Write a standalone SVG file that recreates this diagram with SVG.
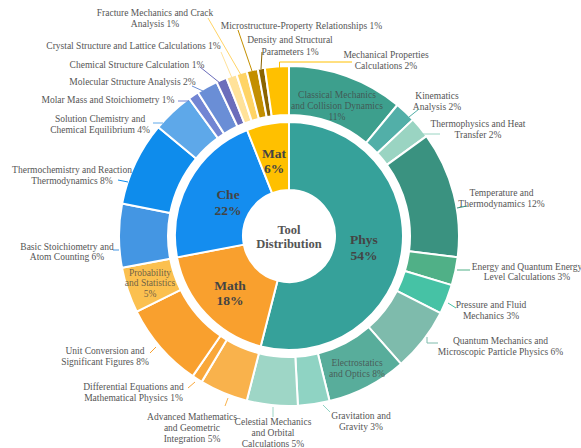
<svg xmlns="http://www.w3.org/2000/svg" width="581" height="448" viewBox="0 0 581 448">
<style>
.seg{stroke:#fff;stroke-width:2;stroke-linejoin:round}
.lbl{font-family:"Liberation Serif","Times New Roman",serif;font-size:9.5px;fill:#555;text-anchor:middle}
.inl{font-family:"Liberation Serif","Times New Roman",serif;font-size:9.5px;fill:#444;fill-opacity:0.78;text-anchor:middle}
.big{font-family:"Liberation Serif","Times New Roman",serif;font-size:13.5px;font-weight:bold;fill:#444;text-anchor:middle}
.ctr{font-family:"Liberation Serif","Times New Roman",serif;font-size:12.5px;font-weight:bold;fill:#555;text-anchor:middle}
.ld{fill:none;stroke-width:1}
</style>
<rect width="581" height="448" fill="#fff"/>
<g id="inner-ring">
<g id="phys"><path class="seg" fill="#36A19A" d="M289,122 A114,114 0 1 1 260.65,346.42 L277.56,280.56 A46,46 0 1 0 289,190 Z"/><text class="big" x="364" y="244">Phys</text><text class="big" x="364" y="260">54%</text></g>
<g id="math"><path class="seg" fill="#F9A02E" d="M260.65,346.42 A114,114 0 0 1 177.02,257.36 L243.81,244.62 A46,46 0 0 0 277.56,280.56 Z"/><text class="big" x="230" y="290">Math</text><text class="big" x="230" y="305">18%</text></g>
<g id="che"><path class="seg" fill="#148DEF" d="M177.02,257.36 A114,114 0 0 1 247.03,130 L272.07,193.23 A46,46 0 0 0 243.81,244.62 Z"/><text class="big" x="228" y="199">Che</text><text class="big" x="228" y="215">22%</text></g>
<g id="mat"><path class="seg" fill="#FFC000" d="M247.03,130 A114,114 0 0 1 289,122 L289,190 A46,46 0 0 0 272.07,193.23 Z"/><text class="big" x="274" y="157.5">Mat</text><text class="big" x="274" y="173">6%</text></g>
</g>
<g id="center"><circle cx="289" cy="236" r="45" fill="#fff"/><text class="ctr" x="289" y="233.5">Tool</text><text class="ctr" x="289" y="247.5">Distribution</text></g>
<g id="outer-ring">
<g id="classical"><path class="seg" fill="#3D9F8D" d="M289,66 A170,170 0 0 1 397.36,105.01 L366.13,142.77 A121,121 0 0 0 289,115 Z"/><text class="inl" x="337" y="97.5">Classical Mechanics</text><text class="inl" x="337" y="108.5">and Collision Dynamics</text><text class="inl" x="337" y="119.5">11%</text></g>
<g id="kinematics"><path class="seg" fill="#52AFA8" d="M397.36,105.01 A170,170 0 0 1 412.92,119.63 L377.2,153.17 A121,121 0 0 0 366.13,142.77 Z"/><text class="lbl" x="437" y="98.5">Kinematics</text><text class="lbl" x="437" y="109.5">Analysis 2%</text></g>
<g id="thermophysics"><path class="seg" fill="#9AD4C2" d="M412.92,119.63 A170,170 0 0 1 426.53,136.08 L386.89,164.88 A121,121 0 0 0 377.2,153.17 Z"/><text class="lbl" x="478" y="126.5">Thermophysics and Heat</text><text class="lbl" x="478" y="137.5">Transfer 2%</text></g>
<g id="temperature"><path class="seg" fill="#3A9280" d="M426.53,136.08 A170,170 0 0 1 457.66,257.31 L409.05,251.17 A121,121 0 0 0 386.89,164.88 Z"/><text class="lbl" x="501.5" y="196">Temperature and</text><text class="lbl" x="501.5" y="207">Thermodynamics 12%</text></g>
<g id="energy"><path class="seg" fill="#50B087" d="M457.66,257.31 A170,170 0 0 1 451.74,285.14 L404.84,270.97 A121,121 0 0 0 409.05,251.17 Z"/><text class="lbl" x="527" y="269.5">Energy and Quantum Energy</text><text class="lbl" x="527" y="280">Level Calculations 3%</text></g>
<g id="pressure"><path class="seg" fill="#46C2A5" d="M451.74,285.14 A170,170 0 0 1 440.47,313.18 L396.81,290.93 A121,121 0 0 0 404.84,270.97 Z"/><text class="lbl" x="491" y="307.5">Pressure and Fluid</text><text class="lbl" x="491" y="318.5">Mechanics 3%</text></g>
<g id="quantum"><path class="seg" fill="#7EBBAC" d="M440.47,313.18 A170,170 0 0 1 400.98,363.91 L368.7,327.04 A121,121 0 0 0 396.81,290.93 Z"/><text class="lbl" x="500.5" y="343.5">Quantum Mechanics and</text><text class="lbl" x="500.5" y="354.5">Microscopic Particle Physics 6%</text></g>
<g id="electrostatics"><path class="seg" fill="#58AD9B" d="M400.98,363.91 A170,170 0 0 1 329.55,401.09 L317.86,353.51 A121,121 0 0 0 368.7,327.04 Z"/><text class="inl" x="357" y="366">Electrostatics</text><text class="inl" x="357" y="376.5">and Optics 8%</text></g>
<g id="gravitation"><path class="seg" fill="#8FD3C3" d="M329.55,401.09 A170,170 0 0 1 297.9,405.77 L295.33,356.83 A121,121 0 0 0 317.86,353.51 Z"/><text class="lbl" x="361" y="418.5">Gravitation and</text><text class="lbl" x="361" y="429.5">Gravity 3%</text></g>
<g id="celestial"><path class="seg" fill="#9ED6C6" d="M297.9,405.77 A170,170 0 0 1 246.72,400.66 L258.91,353.2 A121,121 0 0 0 295.33,356.83 Z"/><text class="lbl" x="273" y="424.5">Celestial Mechanics</text><text class="lbl" x="273" y="435.5">and Orbital</text><text class="lbl" x="273" y="446.5">Calculations 5%</text></g>
<g id="advanced"><path class="seg" fill="#F9B24C" d="M246.72,400.66 A170,170 0 0 1 201.7,381.87 L226.86,339.83 A121,121 0 0 0 258.91,353.2 Z"/><text class="lbl" x="192" y="420">Advanced Mathematics</text><text class="lbl" x="192" y="431">and Geometric</text><text class="lbl" x="192" y="442">Integration 5%</text></g>
<g id="diffeq"><path class="seg" fill="#F9A73A" d="M201.7,381.87 A170,170 0 0 1 192.71,376.1 L220.46,335.72 A121,121 0 0 0 226.86,339.83 Z"/><text class="lbl" x="133.5" y="389.5">Differential Equations and</text><text class="lbl" x="133.5" y="400.5">Mathematical Physics 1%</text></g>
<g id="unit"><path class="seg" fill="#F9A02E" d="M192.71,376.1 A170,170 0 0 1 136.73,311.59 L180.62,289.8 A121,121 0 0 0 220.46,335.72 Z"/><text class="lbl" x="105" y="353.5">Unit Conversion and</text><text class="lbl" x="105" y="364.5">Significant Figures 8%</text></g>
<g id="probability"><path class="seg" fill="#FBC04F" d="M136.73,311.59 A170,170 0 0 1 122.01,267.85 L170.14,258.67 A121,121 0 0 0 180.62,289.8 Z"/><text class="inl" x="150" y="275.5">Probability</text><text class="inl" x="150" y="286">and Statistics</text><text class="inl" x="150" y="297">5%</text></g>
<g id="basic"><path class="seg" fill="#4496E3" d="M122.01,267.85 A170,170 0 0 1 122.12,203.56 L170.22,212.91 A121,121 0 0 0 170.14,258.67 Z"/><text class="lbl" x="67" y="249.5">Basic Stoichiometry and</text><text class="lbl" x="67" y="260">Atom Counting 6%</text></g>
<g id="thermochem"><path class="seg" fill="#0E8CEC" d="M122.12,203.56 A170,170 0 0 1 158.39,127.18 L196.04,158.55 A121,121 0 0 0 170.22,212.91 Z"/><text class="lbl" x="72" y="172.5">Thermochemistry and Reaction</text><text class="lbl" x="72" y="183.5">Thermodynamics 8%</text></g>
<g id="solution"><path class="seg" fill="#5EA8E9" d="M158.39,127.18 A170,170 0 0 1 189.08,98.47 L217.88,138.11 A121,121 0 0 0 196.04,158.55 Z"/><text class="lbl" x="100" y="121.5">Solution Chemistry and</text><text class="lbl" x="100" y="132.5">Chemical Equilibrium 4%</text></g>
<g id="molar"><path class="seg" fill="#7285D3" d="M189.08,98.47 A170,170 0 0 1 197.91,92.46 L224.16,133.84 A121,121 0 0 0 217.88,138.11 Z"/><text class="lbl" x="108" y="102.5">Molar Mass and Stoichiometry 1%</text></g>
<g id="molecular"><path class="seg" fill="#6A8ED6" d="M197.91,92.46 A170,170 0 0 1 216.62,82.18 L237.48,126.52 A121,121 0 0 0 224.16,133.84 Z"/><text class="lbl" x="132.5" y="84.5">Molecular Structure Analysis 2%</text></g>
<g id="chemstruct"><path class="seg" fill="#6B6DBB" d="M216.62,82.18 A170,170 0 0 1 226.42,77.94 L244.46,123.5 A121,121 0 0 0 237.48,126.52 Z"/><text class="lbl" x="137" y="67.5">Chemical Structure Calculation 1%</text></g>
<g id="crystal"><path class="seg" fill="#FFE29A" d="M226.42,77.94 A170,170 0 0 1 236.47,74.32 L251.61,120.92 A121,121 0 0 0 244.46,123.5 Z"/><text class="lbl" x="133.5" y="49">Crystal Structure and Lattice Calculations 1%</text></g>
<g id="fracture"><path class="seg" fill="#FFD466" d="M236.47,74.32 A170,170 0 0 1 246.72,71.34 L258.91,118.8 A121,121 0 0 0 251.61,120.92 Z"/><text class="lbl" x="155" y="15.5">Fracture Mechanics and Crack</text><text class="lbl" x="155" y="26.5">Analysis 1%</text></g>
<g id="microstructure"><path class="seg" fill="#C38F00" d="M246.72,71.34 A170,170 0 0 1 257.73,68.9 L266.74,117.06 A121,121 0 0 0 258.91,118.8 Z"/><text class="lbl" x="301.5" y="29">Microstructure-Property Relationships 1%</text></g>
<g id="density"><path class="seg" fill="#8B6400" d="M257.73,68.9 A170,170 0 0 1 264.75,67.74 L271.74,116.24 A121,121 0 0 0 266.74,117.06 Z"/><text class="lbl" x="290" y="43">Density and Structural</text><text class="lbl" x="290" y="54.5">Parameters 1%</text></g>
<g id="mechanical"><path class="seg" fill="#FFC000" d="M264.75,67.74 A170,170 0 0 1 289,66 L289,115 A121,121 0 0 0 271.74,116.24 Z"/><text class="lbl" x="386" y="57.5">Mechanical Properties</text><text class="lbl" x="386" y="69">Calculations 2%</text></g>
</g>
<g id="connectors">
<polyline class="ld" stroke="#FFC000" points="279.5,68 279.5,62 352,62"/>
<line class="ld" stroke="#52AFA8" x1="409" y1="117" x2="419" y2="109"/>
<line class="ld" stroke="#9AD4C2" x1="423" y1="134" x2="440" y2="134"/>
<line class="ld" stroke="#3A9280" x1="457" y1="208" x2="467" y2="206"/>
<line class="ld" stroke="#50B087" x1="457" y1="270" x2="470" y2="270"/>
<line class="ld" stroke="#46C2A5" x1="448" y1="303" x2="456" y2="308"/>
<polyline class="ld" stroke="#7EBBAC" points="427,337 427,343 438,343"/>
<line class="ld" stroke="#8FD3C3" x1="323" y1="405" x2="330" y2="412"/>
<line class="ld" stroke="#9ED6C6" x1="273" y1="407" x2="273" y2="417"/>
<line class="ld" stroke="#F9B24C" x1="228" y1="398" x2="225" y2="406"/>
<line class="ld" stroke="#F9A73A" x1="195" y1="382" x2="188" y2="388"/>
<line class="ld" stroke="#F9A02E" x1="156" y1="347" x2="150" y2="353"/>
<line class="ld" stroke="#4496E3" x1="119" y1="250" x2="113" y2="250"/>
<line class="ld" stroke="#0E8CEC" x1="128" y1="182" x2="118" y2="180"/>
<line class="ld" stroke="#5EA8E9" x1="163" y1="123" x2="153" y2="123"/>
<line class="ld" stroke="#7285D3" x1="189" y1="101" x2="178" y2="101"/>
<line class="ld" stroke="#6A8ED6" x1="203" y1="91" x2="192" y2="86"/>
<line class="ld" stroke="#6B6DBB" x1="220" y1="83" x2="200" y2="67"/>
<line class="ld" stroke="#FFE29A" x1="232" y1="78" x2="221" y2="52"/>
<line class="ld" stroke="#FFD466" x1="241" y1="75" x2="208" y2="18"/>
<line class="ld" stroke="#C38F00" x1="252" y1="71" x2="238" y2="30"/>
<line class="ld" stroke="#8B6400" x1="261" y1="69" x2="262" y2="52"/>
</g>
</svg>
